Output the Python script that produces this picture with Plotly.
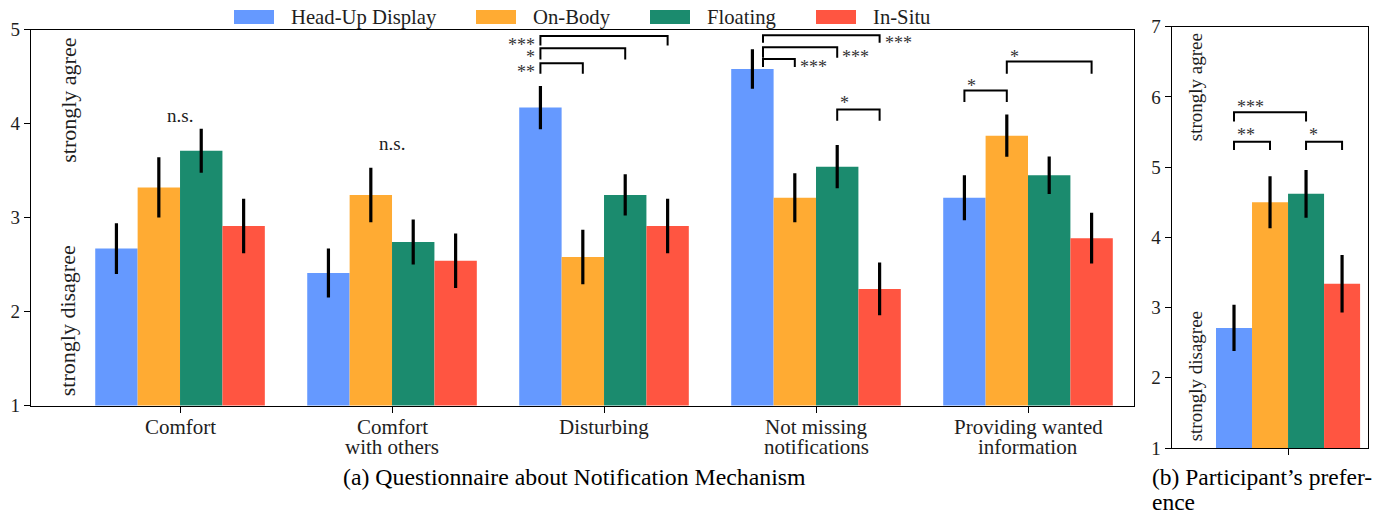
import plotly.graph_objects as go

# ---------------- data ----------------
series = ["Head-Up Display", "On-Body", "Floating", "In-Situ"]
colors = ["#6599FF", "#FFAB33", "#1B8B6E", "#FF5541"]
categories = ["Comfort", "Comfort<br>with others", "Disturbing",
              "Not missing<br>notifications", "Providing wanted<br>information"]

hud_mean = [2.67, 2.41, 4.17, 4.58, 3.21]
hud_err = [0.27, 0.26, 0.23, 0.21, 0.24]
onbody_mean = [3.32, 3.24, 2.58, 3.21, 3.87]
onbody_err = [0.32, 0.29, 0.29, 0.26, 0.225]
floating_mean = [3.71, 2.74, 3.24, 3.54, 3.45]
floating_err = [0.235, 0.24, 0.22, 0.23, 0.20]
insitu_mean = [2.91, 2.54, 2.91, 2.24, 2.78]
insitu_err = [0.29, 0.29, 0.29, 0.28, 0.27]

pref_mean = [2.71, 4.50, 4.62, 3.34]
pref_err = [0.33, 0.37, 0.34, 0.41]

# significance comparisons: (group, bar_a, bar_b, bracket_top, leg_bottom, label, label_side, label_y, left_leg_shift)
sig_a = [
    (2, 0, 1, 4.64, 4.53, "**", "left", 4.59, 0.0),
    (2, 0, 2, 4.80, 4.68, "*", "left", 4.75, 0.0),
    (2, 0, 3, 4.93, 4.83, "***", "left", 4.88, 0.0),
    (3, 0, 1, 4.685, 4.60, "***", "right", 4.64, 0.05),
    (3, 0, 2, 4.81, 4.70, "***", "right", 4.75, 0.05),
    (3, 0, 3, 4.94, 4.86, "***", "right", 4.90, 0.05),
    (3, 2, 3, 4.15, 4.03, "*", "above", 4.26, 0.0),
    (4, 0, 1, 4.35, 4.23, "*", "above", 4.44, 0.0),
    (4, 1, 3, 4.66, 4.53, "*", "above", 4.745, 0.0),
]
sig_b = [
    (0, 0, 1, 5.36, 5.245, "**", "above", 5.52, 0.0),
    (0, 0, 2, 5.78, 5.65, "***", "above", 5.91, 0.0),
    (0, 2, 3, 5.36, 5.245, "*", "above", 5.52, 0.0),
]
ns_labels = [(0, 4.09, "n.s."), (1, 3.79, "n.s.")]

means = [hud_mean, onbody_mean, floating_mean, insitu_mean]
errs = [hud_err, onbody_err, floating_err, insitu_err]

# ---------------- figure ----------------
W, H = 1387, 512
OFF = 8  # page body margin in the browser
FONT = "Liberation Serif"
TXT = "#1e1e1e"


def px(x):
    return (x - OFF) / W


def py(y):
    return 1 - (y - OFF) / H


fig = go.Figure()
for i, name in enumerate(series):
    fig.add_trace(go.Bar(
        x=list(range(len(categories))), y=means[i], name=name,
        marker=dict(color=colors[i], line=dict(width=0)),
        error_y=dict(type="data", array=errs[i], color="black", thickness=3.2, width=0),
        xaxis="x", yaxis="y", showlegend=False))
for i, name in enumerate(series):
    fig.add_trace(go.Bar(
        x=[0], y=[pref_mean[i]], name=name,
        marker=dict(color=colors[i], line=dict(width=0)),
        error_y=dict(type="data", array=[pref_err[i]], color="black", thickness=3.2, width=0),
        xaxis="x2", yaxis="y2", showlegend=False))

axis_common = dict(showline=True, linecolor="black", linewidth=1.4, mirror=True,
                   ticks="outside", ticklen=6, tickwidth=1.3, tickcolor="black",
                   showgrid=False, zeroline=False, automargin=False)

fig.update_layout(
    width=W, height=H,
    margin=dict(l=0, r=0, t=0, b=0),
    paper_bgcolor="white", plot_bgcolor="white",
    barmode="group", bargap=0.2, bargroupgap=0,
    font=dict(family=FONT, color=TXT),
    xaxis=dict(domain=[px(31), px(1134)], range=[-0.703, 4.5], anchor="y",
               tickvals=list(range(len(categories))), ticktext=[""] * len(categories),
               **axis_common),
    yaxis=dict(domain=[py(405.5), py(29.5)], range=[1, 5], anchor="x",
               tickvals=[1, 2, 3, 4, 5], tickfont=dict(size=19, family=FONT, color=TXT),
               **axis_common),
    xaxis2=dict(domain=[px(1171.7), px(1368)], range=[-0.646, 0.444], anchor="y2",
                tickvals=[0], ticktext=[""], **axis_common),
    yaxis2=dict(domain=[py(448), py(26.7)], range=[1, 7], anchor="x2",
                tickvals=[1, 2, 3, 4, 5, 6, 7], tickfont=dict(size=19, family=FONT, color=TXT),
                **axis_common),
)

shapes = []
annotations = []

# category labels (tight two-line spacing like the original)
for gi, cat in enumerate(categories):
    for li, line in enumerate(cat.split("<br>")):
        annotations.append(dict(x=gi, y=py(427 + 20 * li), xref="x", yref="paper",
                                text=line, showarrow=False, xanchor="center", yanchor="middle",
                                font=dict(size=21, family=FONT, color=TXT)))


def bar_x(g, b):
    return g + (b - 1.5) * 0.2


def add_sig(specs, xr, yr):
    for g, a, b, yt, yb, lab, side, ly, shift in specs:
        x1 = bar_x(g, a) + shift
        x2 = bar_x(g, b)
        shapes.append(dict(type="path", xref=xr, yref=yr,
                           path=f"M {x1},{yb} L {x1},{yt} L {x2},{yt} L {x2},{yb}",
                           line=dict(color="black", width=2)))
        if side == "left":
            ax, anchor, xs = x1, "right", -3
        elif side == "right":
            ax, anchor, xs = x2, "left", 3
        else:
            ax, anchor, xs = x1, "left", 1
        annotations.append(dict(x=ax, y=ly, xref=xr, yref=yr, text=lab, showarrow=False,
                                xanchor=anchor, yanchor="middle", xshift=xs, yshift=-4,
                                font=dict(size=18, family=FONT, color="#333")))


add_sig(sig_a, "x", "y")
add_sig(sig_b, "x2", "y2")

for g, y, lab in ns_labels:
    annotations.append(dict(x=g, y=y, xref="x", yref="y", text=lab, showarrow=False,
                            xanchor="center", yanchor="middle",
                            font=dict(size=19, family=FONT, color=TXT)))

# agree / disagree labels
annotations += [
    dict(x=-0.527, y=4.245, xref="x", yref="y", text="strongly agree", textangle=-90,
         showarrow=False, font=dict(size=22, family=FONT, color=TXT)),
    dict(x=-0.527, y=1.90, xref="x", yref="y", text="strongly disagree", textangle=-90,
         showarrow=False, font=dict(size=22, family=FONT, color=TXT)),
    dict(x=-0.517, y=6.137, xref="x2", yref="y2", text="strongly agree", textangle=-90,
         showarrow=False, font=dict(size=19, family=FONT, color=TXT)),
    dict(x=-0.517, y=2.02, xref="x2", yref="y2", text="strongly disagree", textangle=-90,
         showarrow=False, font=dict(size=19, family=FONT, color=TXT)),
]

# legend (manual, matplotlib style wide swatches)
legend_left = [234, 476, 650, 816]
for i, name in enumerate(series):
    x0 = legend_left[i]
    shapes.append(dict(type="rect", xref="paper", yref="paper",
                       x0=px(x0), x1=px(x0 + 40), y0=py(24), y1=py(10),
                       fillcolor=colors[i], line=dict(width=0)))
    annotations.append(dict(x=px(x0 + 55), y=py(17), xref="paper", yref="paper",
                            text=name, showarrow=False, xanchor="left", yanchor="middle",
                            font=dict(size=20.7, family=FONT, color=TXT)))

# captions
annotations += [
    dict(x=px(574), y=py(477), xref="paper", yref="paper",
         text="(a) Questionnaire about Notification Mechanism", showarrow=False,
         xanchor="center", yanchor="middle", font=dict(size=23.8, family=FONT, color="black")),
    dict(x=px(1150), y=py(477), xref="paper", yref="paper",
         text="(b) Participant’s prefer-", showarrow=False,
         xanchor="left", yanchor="middle", font=dict(size=23.5, family=FONT, color="black")),
    dict(x=px(1150), y=py(502), xref="paper", yref="paper",
         text="ence", showarrow=False,
         xanchor="left", yanchor="middle", font=dict(size=23.5, family=FONT, color="black")),
]

fig.update_layout(shapes=shapes, annotations=annotations)
fig.write_html("out.html")
